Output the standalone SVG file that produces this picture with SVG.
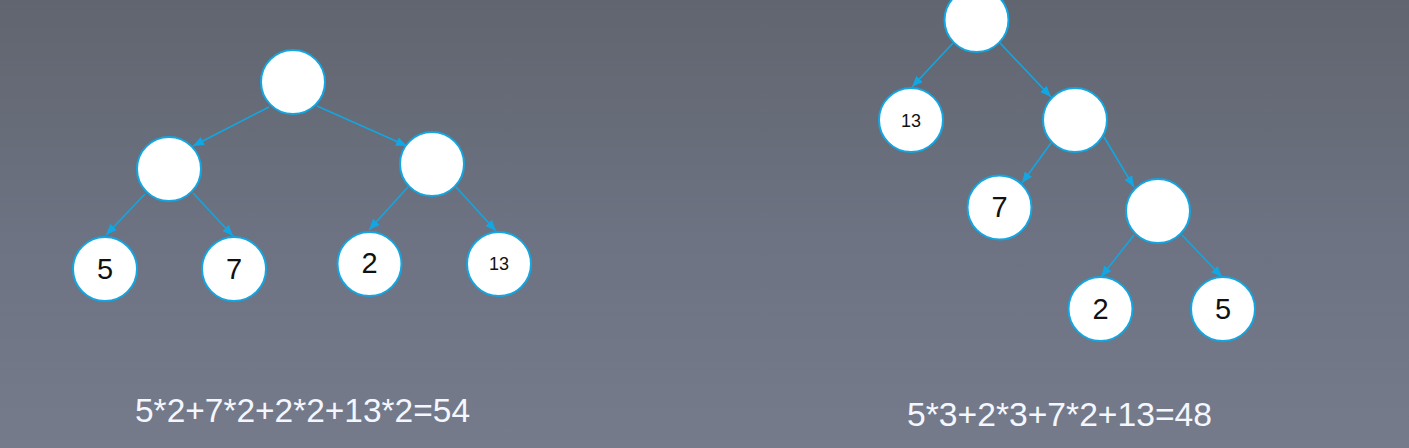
<svg xmlns="http://www.w3.org/2000/svg" width="1409" height="448" viewBox="0 0 1409 448">
<defs>
<linearGradient id="bg" x1="0" y1="0" x2="0" y2="1">
<stop offset="0" stop-color="#61656f"/>
<stop offset="0.5" stop-color="#6c7281"/>
<stop offset="1" stop-color="#757b8b"/>
</linearGradient>
<marker id="arr" markerUnits="userSpaceOnUse" markerWidth="12" markerHeight="10" refX="11" refY="4.5" orient="auto">
<path d="M0,0 L11,4.5 L0,9 z" fill="#12a6e2"/>
</marker>
<style>
.n circle{fill:#ffffff;stroke:#12a6e2;stroke-width:2}
.n text{font-family:"Liberation Sans",Arial,sans-serif;fill:#111111;text-anchor:middle}
.big{font-size:29px}
.small{font-size:18px}
#edges line{stroke:#12a6e2;stroke-width:1.6;marker-end:url(#arr)}
.f{font-family:"Liberation Sans",Arial,sans-serif;font-size:33px;fill:#f4f7ff}
</style>
</defs>
<rect width="1409" height="448" fill="url(#bg)"/>
<g id="edges">
<line x1="269" y1="107" x2="193" y2="146"/>
<line x1="317" y1="106" x2="407" y2="146"/>
<line x1="145" y1="194" x2="106" y2="235"/>
<line x1="193" y1="193" x2="233" y2="236"/>
<line x1="408" y1="187" x2="369" y2="230"/>
<line x1="456" y1="187" x2="496" y2="231"/>
<line x1="953" y1="43" x2="912" y2="87"/>
<line x1="1000" y1="43" x2="1051" y2="97"/>
<line x1="1051" y1="143" x2="1022" y2="183"/>
<line x1="1104" y1="137" x2="1134" y2="187"/>
<line x1="1134" y1="235" x2="1101" y2="277"/>
<line x1="1182" y1="235" x2="1222" y2="277"/>
</g>
<g id="L_root" class="n"><circle cx="293" cy="82" r="32"/></g>
<g id="L_mid1" class="n"><circle cx="169" cy="169" r="32"/></g>
<g id="L_mid2" class="n"><circle cx="432" cy="164" r="32"/></g>
<g id="L_5" class="n"><circle cx="105" cy="269" r="32"/><text class="big" x="105" y="279">5</text></g>
<g id="L_7" class="n"><circle cx="234" cy="269" r="32"/><text class="big" x="234" y="279">7</text></g>
<g id="L_2" class="n"><circle cx="369.5" cy="264" r="32"/><text class="big" x="369.5" y="273">2</text></g>
<g id="L_13" class="n"><circle cx="499" cy="264" r="32"/><text class="small" x="499" y="270">13</text></g>
<g id="R_root" class="n"><circle cx="976.5" cy="20" r="32"/></g>
<g id="R_13" class="n"><circle cx="911" cy="120" r="32"/><text class="small" x="911" y="127">13</text></g>
<g id="R_mid1" class="n"><circle cx="1075" cy="120" r="32"/></g>
<g id="R_7" class="n"><circle cx="999.5" cy="207.5" r="32"/><text class="big" x="999.5" y="217">7</text></g>
<g id="R_mid2" class="n"><circle cx="1158" cy="211" r="32"/></g>
<g id="R_2" class="n"><circle cx="1100.5" cy="309" r="32"/><text class="big" x="1100.5" y="319">2</text></g>
<g id="R_5" class="n"><circle cx="1223" cy="309" r="32"/><text class="big" x="1223" y="319">5</text></g>
<text class="f" x="135" y="422" textLength="335" lengthAdjust="spacingAndGlyphs">5*2+7*2+2*2+13*2=54</text>
<text class="f" x="907" y="426" textLength="305" lengthAdjust="spacingAndGlyphs">5*3+2*3+7*2+13=48</text>
</svg>
